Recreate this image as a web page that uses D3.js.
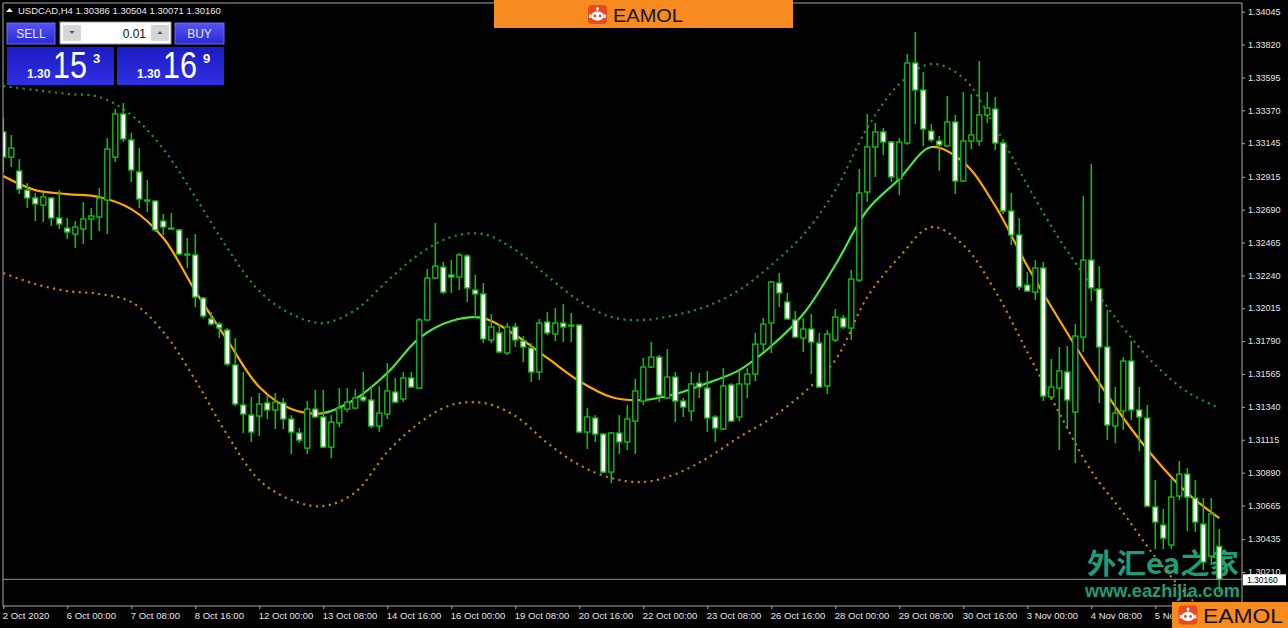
<!DOCTYPE html>
<html><head><meta charset="utf-8">
<script src="https://cdn.jsdelivr.net/npm/d3@7"></script>
<style>html,body{margin:0;padding:0;background:#000;overflow:hidden}svg{display:block}</style>
</head><body>
<svg id="chart" width="1288" height="628"></svg>
<script>
// ---------------- DATA ----------------
const symbol = "USDCAD";
const timeframe = "H4";
const bidPrice = 1.30153;
const askPrice = 1.30169;
const lotSize = "0.01";

const opens = [1.33222,1.33050,1.32955,1.32824,1.32770,1.32722,1.32770,1.32633,1.32564,1.32523,
1.32558,1.32626,1.32640,1.32756,1.33050,1.33345,1.33167,1.32948,1.32756,1.32749,
1.32612,1.32564,1.32551,1.32386,1.32380,1.32085,1.31942,1.31907,1.31866,1.31627,
1.31353,1.31284,1.31278,1.31367,1.31319,1.31367,1.31257,1.31161,1.31058,1.31325,
1.31271,1.31065,1.31230,1.31325,1.31332,1.31408,1.31387,1.31209,1.31291,1.31442,
1.31394,1.31538,1.31469,1.31935,1.32222,1.32297,1.32243,1.32229,1.32373,1.32140,
1.32113,1.31798,1.31846,1.31709,1.31887,1.31791,1.31743,1.31579,1.31921,1.31839,
1.31914,1.31900,1.31900,1.31168,1.31264,1.31154,1.30894,1.31161,1.31100,1.31243,
1.31380,1.31613,1.31681,1.31401,1.31544,1.31380,1.31312,1.31503,1.31469,1.31271,
1.31189,1.31490,1.31271,1.31497,1.31565,1.31770,1.31914,1.32188,1.32058,1.31935,
1.31811,1.31873,1.31777,1.31483,1.31798,1.31948,1.31880,1.32208,1.32811,1.33119,
1.33222,1.33153,1.32900,1.33146,1.33694,1.33509,1.33228,1.33160,1.33126,1.33290,
1.32886,1.33160,1.33160,1.33338,1.33379,1.33146,1.32681,1.32517,1.32174,1.32126,
1.32291,1.31408,1.31469,1.31579,1.31305,1.31818,1.32345,1.32147,1.31750,1.31209,
1.31312,1.31654,1.31319,1.31264,1.30655,1.30531,1.30395,1.30730,1.30880,1.30716,
1.30538,1.30319,1.30386];

const highs = [1.33317,1.33201,1.33037,1.32872,1.32804,1.32804,1.32777,1.32824,1.32633,1.32612,
1.32742,1.32701,1.32838,1.33180,1.33379,1.33420,1.33215,1.33112,1.32893,1.32756,
1.32660,1.32667,1.32558,1.32496,1.32523,1.32092,1.31989,1.31921,1.31880,1.31811,
1.31579,1.31408,1.31435,1.31421,1.31435,1.31401,1.31284,1.31195,1.31380,1.31456,
1.31456,1.31284,1.31469,1.31469,1.31462,1.31579,1.31483,1.31483,1.31640,1.31538,
1.31579,1.31579,1.31948,1.32284,1.32599,1.32332,1.32345,1.32393,1.32386,1.32243,
1.32188,1.31976,1.31907,1.31914,1.31914,1.31825,1.31777,1.31942,1.31989,1.32017,
1.32044,1.31983,1.31907,1.31332,1.31284,1.31161,1.31168,1.31284,1.31353,1.31531,
1.31675,1.31784,1.31695,1.31736,1.31579,1.31401,1.31579,1.31572,1.31586,1.31284,
1.31606,1.31503,1.31592,1.31606,1.31846,1.31948,1.32202,1.32256,1.32120,1.31996,
1.31948,1.31976,1.31846,1.31866,1.32010,1.31969,1.32277,1.32968,1.33345,1.33283,
1.33249,1.33160,1.33180,1.33755,1.33906,1.33632,1.33276,1.33194,1.33468,1.33338,
1.33495,1.33482,1.33707,1.33495,1.33461,1.33153,1.32804,1.32633,1.32263,1.32345,
1.32332,1.31668,1.31750,1.31757,1.31907,1.32783,1.33002,1.32304,1.32003,1.31476,
1.31681,1.31791,1.31476,1.31353,1.30839,1.30641,1.30846,1.30969,1.30922,1.30839,
1.30716,1.30716,1.30504];

const lows = [1.32948,1.32982,1.32797,1.32701,1.32612,1.32605,1.32578,1.32558,1.32489,1.32427,
1.32455,1.32482,1.32544,1.32523,1.33016,1.33153,1.32879,1.32701,1.32674,1.32537,
1.32517,1.32551,1.32380,1.32291,1.32024,1.31948,1.31900,1.31811,1.31620,1.31346,
1.31161,1.31100,1.31141,1.31257,1.31189,1.31189,1.31017,1.31093,1.31017,1.31264,
1.31058,1.30990,1.31202,1.31305,1.31325,1.31373,1.31195,1.31168,1.31257,1.31367,
1.31373,1.31469,1.31462,1.31928,1.32215,1.32113,1.32120,1.32140,1.32058,1.31948,
1.31777,1.31777,1.31709,1.31695,1.31750,1.31647,1.31510,1.31524,1.31832,1.31791,
1.31784,1.31784,1.31161,1.31052,1.31100,1.30887,1.30819,1.31017,1.31045,1.31017,
1.31353,1.31606,1.31373,1.31394,1.31236,1.31271,1.31243,1.31401,1.31168,1.31100,
1.31182,1.31236,1.31243,1.31401,1.31517,1.31716,1.31709,1.32024,1.31935,1.31811,
1.31716,1.31565,1.31469,1.31428,1.31784,1.31873,1.31798,1.32195,1.32742,1.32914,
1.33064,1.32879,1.32790,1.33133,1.33276,1.33126,1.33153,1.32955,1.33119,1.32797,
1.32879,1.33105,1.33126,1.33283,1.33098,1.32660,1.32448,1.32140,1.32126,1.32072,
1.31380,1.31387,1.31045,1.31189,1.30956,1.31716,1.32065,1.31367,1.31113,1.31093,
1.31182,1.31250,1.31038,1.30655,1.30367,1.30367,1.30367,1.30703,1.30490,1.30484,
1.30223,1.30258,1.30071];

const closes = [1.33050,1.33112,1.32831,1.32770,1.32729,1.32777,1.32633,1.32592,1.32537,1.32571,
1.32626,1.32647,1.32770,1.33105,1.33345,1.33174,1.32961,1.32763,1.32749,1.32551,
1.32571,1.32558,1.32386,1.32380,1.32092,1.31962,1.31907,1.31880,1.31633,1.31360,
1.31291,1.31168,1.31360,1.31319,1.31373,1.31257,1.31168,1.31113,1.31325,1.31271,
1.31065,1.31236,1.31332,1.31373,1.31401,1.31387,1.31209,1.31298,1.31449,1.31373,
1.31538,1.31476,1.31935,1.32222,1.32304,1.32126,1.32229,1.32380,1.32154,1.32113,
1.31805,1.31887,1.31716,1.31887,1.31798,1.31750,1.31579,1.31914,1.31846,1.31914,
1.31887,1.31894,1.31168,1.31271,1.31154,1.30894,1.31161,1.31100,1.31257,1.31449,
1.31613,1.31681,1.31421,1.31544,1.31380,1.31339,1.31497,1.31476,1.31264,1.31195,
1.31483,1.31243,1.31497,1.31565,1.31770,1.31907,1.32195,1.32120,1.31942,1.31818,
1.31873,1.31784,1.31476,1.31839,1.31955,1.31887,1.32215,1.32804,1.33119,1.33222,
1.33153,1.32914,1.33153,1.33694,1.33509,1.33242,1.33167,1.33133,1.33290,1.32886,
1.33160,1.33201,1.33338,1.33386,1.33146,1.32681,1.32517,1.32161,1.32133,1.32291,
1.31414,1.31476,1.31586,1.31387,1.31825,1.32345,1.32154,1.31750,1.31216,1.31298,
1.31654,1.31319,1.31271,1.30661,1.30552,1.30442,1.30723,1.30880,1.30723,1.30552,
1.30278,1.30607,1.30160];

// Moving average with bands, sampled every 4 bars
const maBars = [0,4,8,12,16,20,24,28,32,36,40,44,48,52,56,60,64,68,72,76,80,84,88,92,96,100,104,108,112,116,120,124,128,132,136,140,144,148,152];
const maMid = [1.32920,1.32824,1.32797,1.32777,1.32694,1.32496,1.32133,1.31798,1.31476,1.31325,
1.31298,1.31394,1.31572,1.31811,1.31928,1.31948,1.31832,1.31675,1.31517,1.31408,
1.31387,1.31428,1.31503,1.31592,1.31757,1.31976,1.32311,1.32688,1.32900,1.33119,
1.33016,1.32715,1.32304,1.31935,1.31586,1.31264,1.30983,1.30750,1.30579];
const maUpper = [1.33536,1.33509,1.33482,1.33461,1.33338,1.33105,1.32777,1.32427,1.32133,1.31976,
1.31914,1.32003,1.32202,1.32386,1.32503,1.32523,1.32414,1.32236,1.32065,1.31955,
1.31935,1.31969,1.32030,1.32140,1.32311,1.32517,1.32824,1.33249,1.33550,1.33687,
1.33591,1.33256,1.32859,1.32489,1.32174,1.31880,1.31627,1.31442,1.31332];
const maLower = [1.32256,1.32181,1.32133,1.32113,1.32058,1.31853,1.31524,1.31148,1.30839,1.30703,
1.30661,1.30757,1.31031,1.31230,1.31353,1.31367,1.31278,1.31093,1.30942,1.30853,
1.30826,1.30880,1.30990,1.31134,1.31264,1.31435,1.31661,1.32092,1.32366,1.32571,
1.32448,1.32133,1.31716,1.31298,1.30901,1.30614,1.30312,1.30052,1.29847];

const priceTicks = [1.34045,1.33820,1.33595,1.33370,1.33145,1.32915,1.32690,1.32465,1.32240,1.32015,
1.31790,1.31565,1.31340,1.31115,1.30890,1.30665,1.30435,1.30210];

const timeTickBars = [0,8,16,24,32,40,48,56,64,72,80,88,96,104,112,120,128,136,144];
const timeTickLabels = ["2 Oct 2020","6 Oct 00:00","7 Oct 08:00","8 Oct 16:00","12 Oct 00:00","13 Oct 08:00",
"14 Oct 16:00","16 Oct 00:00","19 Oct 08:00","20 Oct 16:00","22 Oct 00:00","23 Oct 08:00","26 Oct 16:00",
"28 Oct 00:00","29 Oct 08:00","30 Oct 16:00","3 Nov 00:00","4 Nov 08:00","5 Nov 16:00"];

// ---------------- DRAW ----------------
const svg = d3.select('#chart');
const defs = svg.append('defs');
const plot = {left:3, right:1242, top:3, bottom:606};
const nBars = opens.length;

const x = d3.scaleLinear().domain([0, nBars - 1]).range([3.3, 1219.3]);
const y = d3.scaleLinear().domain([1.30160, 1.34045]).range([579.3, 11.7]);
const fmt = d3.format('.5f');
const ff = '"Liberation Sans", Arial, sans-serif';

defs.append('clipPath').attr('id','plotClip').append('rect')
  .attr('x',plot.left).attr('y',plot.top).attr('width',plot.right-plot.left).attr('height',plot.bottom-plot.top);

svg.append('rect').attr('width',1288).attr('height',628).attr('fill','#000');

// watermark (behind the chart)
const wm = svg.append('g');
wm.append('text').attr('x',1087).attr('y',574).attr('fill','#1f9d78')
  .attr('font-family','"Noto Sans CJK SC", sans-serif').attr('font-weight',700).attr('font-size',28)
  .attr('textLength',152).attr('lengthAdjust','spacingAndGlyphs').text('外汇ea之家');
wm.append('text').attr('x',1085).attr('y',597).attr('fill','#1f9d78')
  .attr('font-family',ff).attr('font-weight',700).attr('font-size',18)
  .attr('textLength',155).attr('lengthAdjust','spacingAndGlyphs').text('www.eazhijia.com');

const chart = svg.append('g').attr('clip-path','url(#plotClip)');

// bands
const line = d3.line().x(d => x(d[0])).y(d => y(d[1])).curve(d3.curveCatmullRom.alpha(0.5));
chart.append('path').datum(maBars.map((b,i)=>[b,maUpper[i]])).attr('d',line)
  .attr('fill','none').attr('stroke','#238f23').attr('stroke-width',2.2).attr('stroke-dasharray','2.2,4.3');
chart.append('path').datum(maBars.map((b,i)=>[b,maLower[i]])).attr('d',line)
  .attr('fill','none').attr('stroke','#c07d12').attr('stroke-width',2.2).attr('stroke-dasharray','2.2,4.3');

// middle line colored by direction
const orange = '#ffa600', lime = '#44e844';
const grad = defs.append('linearGradient').attr('id','maGrad').attr('gradientUnits','userSpaceOnUse')
  .attr('x1',x(maBars[0])).attr('x2',x(maBars[maBars.length-1])).attr('y1',0).attr('y2',0);
const span = x(maBars[maBars.length-1]) - x(maBars[0]);
for (let k = 0; k < maBars.length - 1; k++) {
  const col = maMid[k+1] < maMid[k] ? orange : lime;
  grad.append('stop').attr('offset',(x(maBars[k])-x(maBars[0]))/span).attr('stop-color',col);
  grad.append('stop').attr('offset',(x(maBars[k+1])-x(maBars[0]))/span).attr('stop-color',col);
}
chart.append('path').datum(maBars.map((b,i)=>[b,maMid[i]])).attr('d',line)
  .attr('fill','none').attr('stroke','url(#maGrad)').attr('stroke-width',2.2);

// candles
const green = '#19b619';
const idx = d3.range(nBars);
const cg = chart.append('g');
cg.selectAll('line').data(idx).join('line')
  .attr('x1',i=>x(i)).attr('x2',i=>x(i))
  .attr('y1',i=>y(highs[i])).attr('y2',i=>y(lows[i]))
  .attr('stroke',green).attr('stroke-width',1.6);
cg.selectAll('rect').data(idx).join('rect')
  .attr('x',i=>x(i)-2.5).attr('width',5)
  .attr('y',i=>y(Math.max(opens[i],closes[i])))
  .attr('height',i=>Math.max(1,Math.abs(y(opens[i])-y(closes[i]))))
  .attr('fill',i=>closes[i] >= opens[i] ? '#000' : '#fff')
  .attr('stroke',green).attr('stroke-width',1.4);

// current price line
const last = closes[nBars-1];
svg.append('line').attr('x1',plot.left).attr('x2',plot.right).attr('y1',y(last)).attr('y2',y(last))
  .attr('stroke','#8e8e8e').attr('stroke-width',1);

// frame
const frameCol = '#a8a8a8';
svg.append('line').attr('x1',plot.left).attr('x2',plot.right).attr('y1',plot.top).attr('y2',plot.top).attr('stroke',frameCol);
svg.append('line').attr('x1',plot.left).attr('x2',plot.left).attr('y1',plot.top).attr('y2',plot.bottom).attr('stroke',frameCol);
svg.append('line').attr('x1',plot.right).attr('x2',plot.right).attr('y1',plot.top).attr('y2',plot.bottom).attr('stroke',frameCol);
svg.append('line').attr('x1',plot.left).attr('x2',plot.right).attr('y1',plot.bottom).attr('y2',plot.bottom).attr('stroke',frameCol);

// y axis
const yAxis = svg.append('g').attr('transform',`translate(${plot.right},0)`)
  .call(d3.axisRight(y).tickValues(priceTicks).tickFormat(fmt).tickSize(3).tickPadding(3));
yAxis.select('.domain').remove();
yAxis.selectAll('line').attr('stroke',frameCol);
yAxis.selectAll('text').attr('fill','#e6e6e6').attr('font-family',ff).attr('font-size',9).attr('dy','0.3em');

// price label box
const pl = svg.append('g').attr('transform',`translate(${plot.right+1},${y(last)})`);
pl.append('rect').attr('x',0).attr('y',-5).attr('width',43).attr('height',11).attr('fill','#fff');
pl.append('text').attr('x',4).attr('y',0.5).attr('dy','0.35em').attr('fill','#000')
  .attr('font-family',ff).attr('font-size',8.5).text(fmt(last));

// x axis
const xAxis = svg.append('g').attr('transform',`translate(0,${plot.bottom})`)
  .call(d3.axisBottom(x).tickValues(timeTickBars).tickFormat((d,i)=>timeTickLabels[i]).tickSize(3).tickPadding(3));
xAxis.select('.domain').remove();
xAxis.selectAll('line').attr('stroke',frameCol);
xAxis.selectAll('text').attr('fill','#e6e6e6').attr('text-anchor','start').attr('dx',-1)
  .attr('font-family',ff).attr('font-size',9.5);

// header text
svg.append('path').attr('d','M6,12 L9.5,8 L13,12 Z').attr('fill','#e6e6e6');
svg.append('text').attr('x',18).attr('y',14).attr('fill','#ececec')
  .attr('font-family',ff).attr('font-size',9.5)
  .text(`${symbol},${timeframe}  ${fmt(opens[nBars-1])} ${fmt(highs[nBars-1])} ${fmt(lows[nBars-1])} ${fmt(last)}`);

// trade panel
const gBtn = defs.append('linearGradient').attr('id','btnGrad').attr('x1',0).attr('x2',0).attr('y1',0).attr('y2',1);
gBtn.append('stop').attr('offset',0).attr('stop-color','#5454f4');
gBtn.append('stop').attr('offset',1).attr('stop-color','#2a2ad6');
const gBig = defs.append('linearGradient').attr('id','bigGrad').attr('x1',0).attr('x2',0).attr('y1',0).attr('y2',1);
gBig.append('stop').attr('offset',0).attr('stop-color','#1b1bc2');
gBig.append('stop').attr('offset',1).attr('stop-color','#3030e4');
const tp = svg.append('g');
tp.append('rect').attr('x',7).attr('y',23).attr('width',48).attr('height',21).attr('fill','url(#btnGrad)').attr('stroke','#6a6af8').attr('stroke-width',1);
tp.append('text').attr('x',31).attr('y',38).attr('text-anchor','middle').attr('fill','#e8e8ff').attr('font-family',ff).attr('font-size',12).text('SELL');
tp.append('rect').attr('x',175).attr('y',23).attr('width',49).attr('height',21).attr('fill','url(#btnGrad)').attr('stroke','#6a6af8').attr('stroke-width',1);
tp.append('text').attr('x',199.5).attr('y',38).attr('text-anchor','middle').attr('fill','#e8e8ff').attr('font-family',ff).attr('font-size',12).text('BUY');
tp.append('rect').attr('x',60).attr('y',22).attr('width',111).attr('height',22).attr('fill','#fff').attr('stroke','#9a9a9a');
tp.append('rect').attr('x',63).attr('y',25).attr('width',18).attr('height',16).attr('fill','#d6d6d6');
tp.append('rect').attr('x',151).attr('y',25).attr('width',18).attr('height',16).attr('fill','#d6d6d6');
tp.append('path').attr('d','M69.5,31 L74.5,31 L72,34 Z').attr('fill','#555');
tp.append('path').attr('d','M157.5,34 L162.5,34 L160,31 Z').attr('fill','#555');
tp.append('text').attr('x',146).attr('y',38).attr('text-anchor','end').attr('fill','#111').attr('font-family',ff).attr('font-size',12).text(lotSize);

function pricePanel(x0, price) {
  const s = price.toFixed(5);
  tp.append('rect').attr('x',x0).attr('y',47).attr('width',107).attr('height',38).attr('fill','url(#bigGrad)');
  tp.append('text').attr('x',x0+20).attr('y',78).attr('fill','#fff').attr('font-family',ff).attr('font-weight',700).attr('font-size',12).text(s.slice(0,4));
  tp.append('text').attr('x',x0+46).attr('y',78).attr('fill','#fff').attr('font-family',ff).attr('font-size',36)
    .attr('textLength',34).attr('lengthAdjust','spacingAndGlyphs').text(s.slice(4,6));
  tp.append('text').attr('x',x0+86).attr('y',63).attr('fill','#fff').attr('font-family',ff).attr('font-weight',700).attr('font-size',13).text(s.slice(6));
}
pricePanel(7, bidPrice);
pricePanel(117, askPrice);

// logos
function robot(g, cx, cy) {
  g.append('rect').attr('x',cx-9.5).attr('y',cy-9.5).attr('width',19).attr('height',19).attr('rx',4).attr('fill','#ea4a1f');
  g.append('ellipse').attr('cx',cx).attr('cy',cy+1.5).attr('rx',6.5).attr('ry',4.6).attr('fill','#fff');
  g.append('rect').attr('x',cx-8.3).attr('y',cy).attr('width',2).attr('height',3.5).attr('fill','#fff');
  g.append('rect').attr('x',cx+6.3).attr('y',cy).attr('width',2).attr('height',3.5).attr('fill','#fff');
  g.append('line').attr('x1',cx).attr('x2',cx).attr('y1',cy-5.5).attr('y2',cy-3).attr('stroke','#fff').attr('stroke-width',1.3);
  g.append('circle').attr('cx',cx).attr('cy',cy-6).attr('r',1.5).attr('fill','#fff');
  g.append('circle').attr('cx',cx-2.6).attr('cy',cy+1.5).attr('r',1.4).attr('fill','#ea4a1f');
  g.append('circle').attr('cx',cx+2.6).attr('cy',cy+1.5).attr('r',1.4).attr('fill','#ea4a1f');
}
const logoTop = svg.append('g');
logoTop.append('rect').attr('x',494).attr('y',0).attr('width',299).attr('height',28).attr('fill','#f78b1f');
robot(logoTop, 597.5, 14.5);
logoTop.append('text').attr('x',613).attr('y',22).attr('fill','#141414').attr('font-family',ff).attr('font-size',18.5)
  .attr('textLength',70).attr('lengthAdjust','spacingAndGlyphs').text('EAMOL');
const logoBot = svg.append('g');
logoBot.append('rect').attr('x',1172).attr('y',602).attr('width',116).attr('height',26).attr('fill','#f78b1f');
robot(logoBot, 1188, 615);
logoBot.append('text').attr('x',1203).attr('y',623).attr('fill','#141414').attr('font-family',ff).attr('font-size',20)
  .attr('textLength',80).attr('lengthAdjust','spacingAndGlyphs').text('EAMOL');
</script>
</body></html>
